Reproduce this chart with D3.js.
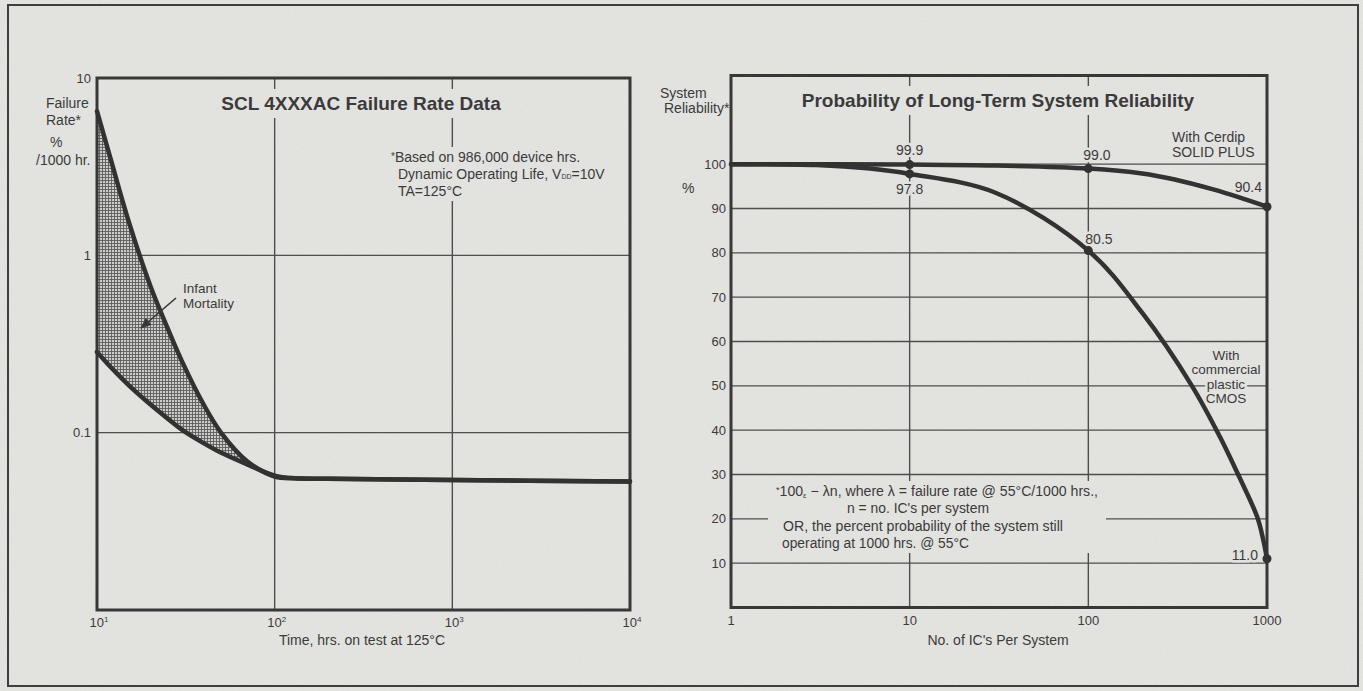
<!DOCTYPE html>
<html>
<head>
<meta charset="utf-8">
<title>SCL 4XXXAC Failure Rate / System Reliability</title>
<script src="https://cdnjs.cloudflare.com/ajax/libs/d3/7.8.5/d3.min.js"></script>
<style>
body { margin: 0; background: #e6e6e3; }
svg { display: block; }
text { font-family: "Liberation Sans", Arial, Helvetica, sans-serif; fill: #363636; }
.grid line { stroke: #4a4a4a; stroke-width: 1.4px; }
.frame { fill: none; stroke: #333; stroke-width: 3px; }
.curve { fill: none; stroke: #2d2d2d; stroke-width: 4.5px; stroke-linejoin: round; stroke-linecap: round; }
.tick { font-size: 13px; }
.lab { font-size: 14px; }
.small { font-size: 13.5px; }
.halo { stroke: #e6e6e3; stroke-width: 5px; paint-order: stroke; stroke-linejoin: round; }
.title { font-size: 19px; font-weight: bold; }
.note { font-size: 14px; }
</style>
</head>
<body>
<svg width="1363" height="691"></svg>
<script>
// left chart: failure rate vs hours on test
var hours = [10, 12, 15, 20, 25, 30, 40, 50, 70, 100, 130, 200, 1000, 10000];
var upperRate = [6.5, 3.43, 1.58, 0.67, 0.387, 0.254, 0.143, 0.0998, 0.069, 0.0566, 0.0553, 0.055, 0.054, 0.053];
var lowerRate = [0.285, 0.233, 0.186, 0.144, 0.12, 0.104, 0.087, 0.077, 0.0663, 0.0572, 0.0553, 0.055, 0.054, 0.053];
var rateTicks = [10, 1, 0.1];
var hourTicks = [10, 100, 1000, 10000];

// right chart: system reliability vs no. of ICs
var cerdipN = [1, 10, 30, 100, 200, 300, 500, 700, 1000];
var cerdipPct = [100, 99.9, 99.7, 99.0, 97.9, 96.6, 94.3, 92.5, 90.4];
var plasticN = [1, 3, 6, 10, 30, 100, 200, 380, 545, 680, 880, 950, 1000];
var plasticPct = [100, 99.8, 99.0, 97.8, 93.6, 80.5, 66.5, 50, 38.5, 30.5, 20.5, 15.5, 11.0];
var markedN = [10, 100, 1000];
var pctTicks = [10, 20, 30, 40, 50, 60, 70, 80, 90, 100];
var countTicks = [1, 10, 100, 1000];

var svg = d3.select("svg");
var paper = "#e6e6e3";

var defs = svg.append("defs");
var f = defs.append("filter").attr("id", "grain");
f.append("feTurbulence").attr("type", "fractalNoise").attr("baseFrequency", 0.9).attr("numOctaves", 2).attr("seed", 3);
f.append("feColorMatrix").attr("values", "0 0 0 0 0.3  0 0 0 0 0.3  0 0 0 0 0.3  0 0 0 0.1 0");

var pat = defs.append("pattern").attr("id", "hatch").attr("width", 3).attr("height", 3)
	.attr("patternUnits", "userSpaceOnUse");
pat.append("rect").attr("width", 3).attr("height", 3).attr("fill", "#cfcfcc");
pat.append("path").attr("d", "M0,0.5H3M0.5,0V3").attr("stroke", "#5a5a5a").attr("stroke-width", 0.9);

svg.append("rect").attr("width", 1363).attr("height", 691).attr("fill", paper);
svg.append("rect").attr("x", 8).attr("y", 5).attr("width", 1350).attr("height", 681)
	.attr("fill", "none").attr("stroke", "#3a3a3a").attr("stroke-width", 2);

// cover gridlines behind a text block
function cover(g, node, px, py) {
	var b = node.getBBox();
	g.insert("rect", ":first-child")
		.attr("x", b.x - px).attr("y", b.y - py)
		.attr("width", b.width + 2 * px).attr("height", b.height + 2 * py)
		.attr("fill", paper);
}

/* ---------- left chart ---------- */
var xL = d3.scaleLog().domain([10, 10000]).range([97, 630]);
var yL = d3.scaleLog().domain([0.01, 10]).range([610, 78]);
var L = svg.append("g");

var gl = L.append("g").attr("class", "grid");
gl.selectAll(".v").data([100, 1000]).enter().append("line")
	.attr("x1", function(d) { return xL(d); }).attr("x2", function(d) { return xL(d); })
	.attr("y1", yL(10)).attr("y2", yL(0.01));
gl.selectAll(".h").data([1, 0.1]).enter().append("line")
	.attr("x1", xL(10)).attr("x2", xL(10000))
	.attr("y1", function(d) { return yL(d); }).attr("y2", function(d) { return yL(d); });

var masksL = L.append("g");
var tl = L.append("text").attr("class", "title").attr("text-anchor", "middle")
	.attr("x", 361).attr("y", 110).text("SCL 4XXXAC Failure Rate Data");
cover(masksL, tl.node(), 4, 4);

var noteL = L.append("text").attr("class", "note").attr("x", 398).attr("y", 162);
noteL.append("tspan").attr("x", 391).attr("font-size", 10).attr("dy", -2).text("*");
noteL.append("tspan").attr("dy", 2).text("Based on 986,000 device hrs.");
noteL.append("tspan").attr("x", 398).attr("dy", 17).text("Dynamic Operating Life, V");
noteL.append("tspan").attr("font-size", 7).text("DD");
noteL.append("tspan").text("=10V");
noteL.append("tspan").attr("x", 398).attr("dy", 17).text("TA=125°C");
cover(masksL, noteL.node(), 4, 2);

// shaded infant mortality band
var band = d3.area()
	.x(function(d) { return xL(d.t); })
	.y0(function(d) { return yL(d.lo); })
	.y1(function(d) { return yL(d.hi); })
	.curve(d3.curveCatmullRom.alpha(0.5));
var rows = hours.map(function(t, i) { return { t: t, hi: upperRate[i], lo: lowerRate[i] }; });
L.append("path").datum(rows.filter(function(d) { return d.t <= 130; }))
	.attr("d", band).attr("fill", "url(#hatch)");

L.append("rect").attr("class", "frame")
	.attr("x", xL(10)).attr("y", yL(10)).attr("width", xL(10000) - xL(10)).attr("height", yL(0.01) - yL(10));

var lineL = d3.line().x(function(d) { return xL(d.t); }).y(function(d) { return yL(d.v); })
	.curve(d3.curveCatmullRom.alpha(0.5));
[upperRate, lowerRate].forEach(function(arr) {
	L.append("path").attr("class", "curve")
		.datum(hours.map(function(t, i) { return { t: t, v: arr[i] }; }))
		.attr("d", lineL);
});

L.selectAll(".yt").data(rateTicks).enter().append("text").attr("class", "tick")
	.attr("text-anchor", "end").attr("x", 91).attr("y", function(d) { return yL(d) + 4.5; })
	.text(function(d) { return d; });
var xt = L.selectAll(".xt").data(hourTicks).enter().append("text").attr("class", "tick")
	.attr("text-anchor", "middle").attr("x", function(d) { return xL(d) + 2; }).attr("y", 627);
xt.append("tspan").text("10");
xt.append("tspan").attr("font-size", 8).attr("dy", -5).text(function(d) { return Math.round(Math.log10(d)); });
L.append("text").attr("class", "lab").attr("text-anchor", "middle").attr("x", 362).attr("y", 645)
	.text("Time, hrs. on test at 125°C");

var ylab = [["Failure", 46, 108], ["Rate*", 46, 125], ["%", 50, 147], ["/1000 hr.", 36, 165]];
L.selectAll(".ylab").data(ylab).enter().append("text").attr("class", "lab")
	.attr("x", function(d) { return d[1]; }).attr("y", function(d) { return d[2]; })
	.text(function(d) { return d[0]; });

L.append("text").attr("class", "small").attr("x", 183).attr("y", 293).text("Infant");
L.append("text").attr("class", "small").attr("x", 183).attr("y", 308).text("Mortality");
defs.append("marker").attr("id", "arr").attr("viewBox", "0 0 10 10").attr("refX", 9).attr("refY", 5)
	.attr("markerWidth", 7).attr("markerHeight", 7).attr("orient", "auto")
	.append("path").attr("d", "M0,1L10,5L0,9Z").attr("fill", "#333");
L.append("line").attr("x1", 176).attr("y1", 298).attr("x2", 141).attr("y2", 328)
	.attr("stroke", "#333").attr("stroke-width", 1.6).attr("marker-end", "url(#arr)");

/* ---------- right chart ---------- */
var xR = d3.scaleLog().domain([1, 1000]).range([731, 1267]);
var yR = d3.scaleLinear().domain([0, 120]).range([607.5, 75.5]);
var R = svg.append("g");

var gr = R.append("g").attr("class", "grid");
gr.selectAll(".h").data(pctTicks).enter().append("line")
	.attr("x1", xR(1)).attr("x2", xR(1000))
	.attr("y1", function(d) { return yR(d); }).attr("y2", function(d) { return yR(d); });
gr.selectAll(".v").data([10, 100]).enter().append("line")
	.attr("x1", function(d) { return xR(d); }).attr("x2", function(d) { return xR(d); })
	.attr("y1", yR(120)).attr("y2", yR(0));

var masksR = R.append("g");
var tr = R.append("text").attr("class", "title").attr("text-anchor", "middle")
	.attr("x", 998).attr("y", 107).text("Probability of Long-Term System Reliability");
cover(masksR, tr.node(), 4, 4);

// footnote, squeezed to the widths of the original lines
var footLines = [
	{ x: 776, y: 496, w: 322 },
	{ x: 847, y: 513, w: 142, s: "n = no. IC's per system" },
	{ x: 783, y: 531, w: 280, s: "OR, the percent probability of the system still" },
	{ x: 782, y: 548, w: 187, s: "operating at 1000 hrs. @ 55°C" }
];
var foot = R.append("g");
footLines.forEach(function(l, i) {
	var t = foot.append("text").attr("class", "note").attr("x", l.x).attr("y", l.y)
		.attr("textLength", l.w).attr("lengthAdjust", "spacingAndGlyphs");
	if (i === 0) {
		t.append("tspan").attr("font-size", 9).attr("dy", -3).text("*");
		t.append("tspan").attr("dy", 3).text("100");
		t.append("tspan").attr("font-size", 8).attr("dy", 2).text("ε");
		t.append("tspan").attr("dy", -2).text(" − λn, where λ = failure rate @ 55°C/1000 hrs.,");
	} else {
		t.text(l.s);
	}
});
cover(masksR, foot.node(), 8, 2);

R.append("rect").attr("class", "frame")
	.attr("x", xR(1)).attr("y", yR(120)).attr("width", xR(1000) - xR(1)).attr("height", yR(0) - yR(120));

R.selectAll(".yt").data(pctTicks).enter().append("text").attr("class", "tick")
	.attr("text-anchor", "end").attr("x", 726).attr("y", function(d) { return yR(d) + 4.5; })
	.text(function(d) { return d; });
R.selectAll(".xt").data(countTicks).enter().append("text").attr("class", "tick")
	.attr("text-anchor", "middle").attr("x", function(d) { return xR(d); }).attr("y", 625)
	.text(function(d) { return d; });
R.append("text").attr("class", "lab").attr("text-anchor", "middle").attr("x", 998).attr("y", 645)
	.text("No. of IC's Per System");
R.append("text").attr("class", "lab").attr("x", 660).attr("y", 98).text("System");
R.append("text").attr("class", "lab").attr("x", 664).attr("y", 113).text("Reliability*");
R.append("text").attr("class", "lab").attr("x", 682).attr("y", 193).text("%");

R.append("text").attr("class", "lab halo").attr("x", 1172).attr("y", 142).text("With Cerdip");
R.append("text").attr("class", "lab halo").attr("x", 1172).attr("y", 157).text("SOLID PLUS");
var plab = ["With", "commercial", "plastic", "CMOS"];
R.selectAll(".plab").data(plab).enter().append("text").attr("class", "small halo")
	.attr("text-anchor", "middle").attr("x", 1226)
	.attr("y", function(d, i) { return 359.5 + i * 14.5; })
	.text(function(d) { return d; });

// value labels at the marked points
var fmt = d3.format(".1f");
var cerdipLab = [[0, -10, "middle"], [-5, -9, "start"], [-5, -15, "end"]];
var plasticLab = [[0, 20, "middle"], [-3, -7, "start"], [-9, 1, "end"]];
function valueLabels(ns, ps, offs) {
	markedN.forEach(function(n, k) {
		var p = ps[ns.indexOf(n)];
		R.append("text").attr("class", "lab halo")
			.attr("x", xR(n) + offs[k][0]).attr("y", yR(p) + offs[k][1])
			.attr("text-anchor", offs[k][2]).text(fmt(p));
	});
}
valueLabels(cerdipN, cerdipPct, cerdipLab);
valueLabels(plasticN, plasticPct, plasticLab);

var lineR = d3.line().x(function(d) { return xR(d.n); }).y(function(d) { return yR(d.p); })
	.curve(d3.curveCatmullRom.alpha(0.5));
[[cerdipN, cerdipPct], [plasticN, plasticPct]].forEach(function(s) {
	var pts = s[0].map(function(n, i) { return { n: n, p: s[1][i] }; });
	R.append("path").attr("class", "curve").datum(pts).attr("d", lineR);
	R.selectAll(null).data(pts.filter(function(d) { return markedN.indexOf(d.n) >= 0; }))
		.enter().append("circle")
		.attr("cx", function(d) { return xR(d.n); }).attr("cy", function(d) { return yR(d.p); })
		.attr("r", 4.5).attr("fill", "#2d2d2d");
});

// paper grain on top of everything
svg.append("rect").attr("width", 1363).attr("height", 691).attr("filter", "url(#grain)")
	.style("pointer-events", "none");
</script>
</body>
</html>
